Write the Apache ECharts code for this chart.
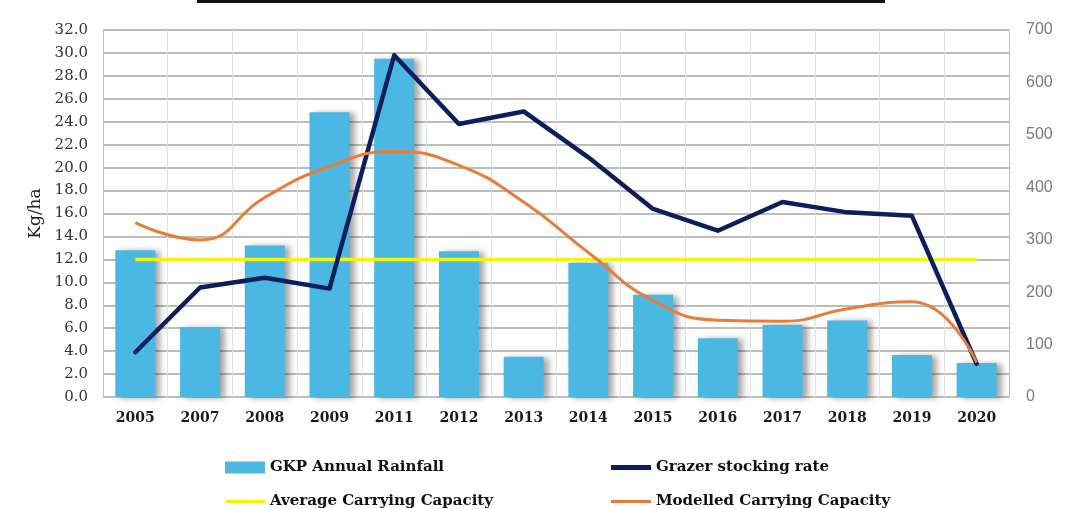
<!DOCTYPE html>
<html>
<head>
<meta charset="utf-8">
<script src="https://cdn.jsdelivr.net/npm/echarts@6/dist/echarts.min.js"></script>
<style>html,body{margin:0;padding:0;background:#fff}#c{width:1081px;height:509px}</style>
</head>
<body>
<div id="c"></div>
<script>
const categories = ['2005','2007','2008','2009','2011','2012','2013','2014','2015','2016','2017','2018','2019','2020'];
// GKP annual rainfall (mm, right axis)
const rainfall = [280, 133, 289, 543, 645, 278, 77, 256, 195, 112, 138, 146, 80, 65];
// Grazer stocking rate (kg/ha, left axis)
const stocking = [3.9, 9.55, 10.4, 9.45, 29.8, 23.8, 24.9, 20.9, 16.4, 14.5, 17.0, 16.1, 15.8, 2.9];
// Average carrying capacity (kg/ha)
const avgCapacity = [12, 12, 12, 12, 12, 12, 12, 12, 12, 12, 12, 12, 12, 12];
// Modelled carrying capacity (kg/ha)
const modelled = [15.2, 13.7, 17.4, 20.1, 21.4, 20.2, 17.0, 12.6, 8.4, 6.7, 6.6, 7.7, 8.3, 3.0];
const leftTicks = {min: 0, max: 32, interval: 2};
const rightTicks = {min: 0, max: 700, interval: 100};

const chart = echarts.init(document.getElementById('c'), null, {renderer: 'canvas'});
const serif = 'DejaVu Serif';
const legText = {fontFamily: serif, fontWeight: 'bold', fontSize: 15, color: '#111'};
function leg(name, left, top, h) {
  return {left: left, top: top, orient: 'horizontal', icon: 'rect', itemWidth: 40, itemHeight: h, itemGap: 4,
          textStyle: legText, data: [name]};
}
chart.setOption({
  animation: false,
  backgroundColor: '#ffffff',
  graphic: [{type: 'rect', shape: {x: 197, y: 0, width: 688, height: 3}, style: {fill: '#111'}}],
  grid: {left: 103, right: 72, top: 30, bottom: 112},
  legend: [
    leg('GKP Annual Rainfall', 220, 455, 12),
    leg('Average Carrying Capacity', 220, 489, 3.5),
    leg('Grazer stocking rate', 606, 455, 5),
    leg('Modelled Carrying Capacity', 606, 489, 3)
  ],
  xAxis: {
    type: 'category', data: categories, boundaryGap: true,
    axisLine: {show: true, lineStyle: {color: '#bfbfbf', width: 1}},
    axisTick: {show: false},
    axisLabel: {fontFamily: serif, fontWeight: 'bold', fontSize: 14, color: '#1a1a1a', margin: 14},
    splitLine: {show: true, lineStyle: {color: '#e0e0e0', width: 1}}
  },
  yAxis: [
    {type: 'value', min: leftTicks.min, max: leftTicks.max, interval: leftTicks.interval,
     name: 'Kg/ha', nameLocation: 'middle', nameGap: 57, nameRotate: 90,
     nameTextStyle: {fontFamily: serif, fontSize: 17, color: '#222'},
     axisLine: {show: true, lineStyle: {color: '#bfbfbf'}},
     axisTick: {show: false},
     axisLabel: {fontFamily: serif, fontSize: 15, color: '#333', margin: 15, formatter: v => v.toFixed(1)},
     splitLine: {show: true, lineStyle: {color: '#a6a6a6', width: 1.5}}},
    {type: 'value', min: rightTicks.min, max: rightTicks.max, interval: rightTicks.interval,
     position: 'right',
     axisLine: {show: true, lineStyle: {color: '#bfbfbf'}},
     axisTick: {show: false},
     axisLabel: {fontFamily: 'Liberation Sans', fontSize: 16, color: '#7a7a7a', margin: 17},
     splitLine: {show: false}}
  ],
  series: [
    {name: 'GKP Annual Rainfall', type: 'bar', yAxisIndex: 1, data: rainfall, barWidth: 40,
     itemStyle: {color: '#4bb8e3', shadowColor: 'rgba(0,0,0,0.35)', shadowBlur: 6, shadowOffsetX: 5, shadowOffsetY: 1}},
    {name: 'Average Carrying Capacity', type: 'line', yAxisIndex: 0, data: avgCapacity, symbol: 'none',
     lineStyle: {color: '#f5f500', width: 3.5}, itemStyle: {color: '#f5f500'}},
    {name: 'Grazer stocking rate', type: 'line', yAxisIndex: 0, data: stocking, symbol: 'none',
     lineStyle: {color: '#0b1f5e', width: 4.5, cap: 'round', join: 'round'}, itemStyle: {color: '#0b1f5e'}},
    {name: 'Modelled Carrying Capacity', type: 'line', yAxisIndex: 0, data: modelled, symbol: 'none', smooth: 0.5,
     lineStyle: {color: '#e87d3a', width: 3}, itemStyle: {color: '#e87d3a'}}
  ]
});
</script>
</body>
</html>
